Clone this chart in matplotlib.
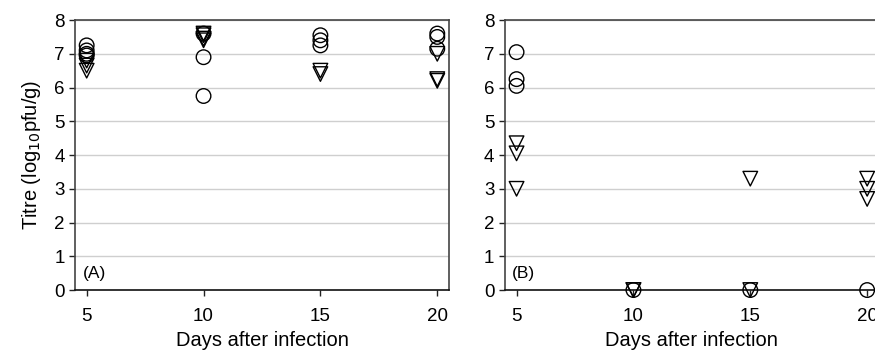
import matplotlib
matplotlib.use("Agg")
import matplotlib.pyplot as plt

plt.rcParams["font.family"] = ["Liberation Sans", "DejaVu Sans"]

# panel A
a_circ_x = [5, 5, 5, 5, 10, 10, 10, 15, 15, 15, 20, 20, 20]
a_circ_y = [7.25, 7.1, 7.0, 6.95, 7.6, 6.9, 5.75, 7.55, 7.4, 7.25, 7.6, 7.5, 7.15]
a_tri_x = [5, 5, 5, 10, 10, 10, 10, 15, 15, 20, 20, 20]
a_tri_y = [6.8, 6.65, 6.5, 7.6, 7.55, 7.45, 7.4, 6.5, 6.4, 7.0, 6.25, 6.2]

# panel B
b_circ_x = [5, 5, 5, 10, 15, 20]
b_circ_y = [7.05, 6.25, 6.05, 0, 0, 0]
b_tri_x = [5, 5, 5, 10, 10, 15, 15, 20, 20, 20]
b_tri_y = [4.35, 4.05, 3.0, 0, 0, 3.3, 0, 3.3, 3.0, 2.7]

xticks = [5, 10, 15, 20]
yticks = list(range(0, 9))

fig = plt.figure(figsize=(8.75, 3.52), dpi=100)
ax_a = fig.add_axes([0.0857, 0.176, 0.4274, 0.767])
ax_b = fig.add_axes([0.577, 0.176, 0.4274, 0.767])


def style(ax, label):
    ax.set_xlim(4.5, 20.5)
    ax.set_ylim(0, 8)
    ax.set_xticks(xticks)
    ax.set_yticks(yticks)
    ax.tick_params(labelsize=13.5, direction="out", length=4, width=1, color="#222222")
    ax.tick_params(axis="x", pad=9)
    ax.yaxis.grid(True, color="#cfcfcf", linewidth=1)
    ax.set_axisbelow(True)
    for s in ax.spines.values():
        s.set_color("#444444")
        s.set_linewidth(1.2)
    ax.spines["bottom"].set_color("#111111")
    ax.set_xlabel("Days after infection", fontsize=14.5, labelpad=4)
    ax.text(0.02, 0.035, label, transform=ax.transAxes, fontsize=12.5, ha="left", va="bottom")


mk = dict(s=110, facecolors="none", edgecolors="black", linewidths=1.0, zorder=3)
ax_a.scatter(a_circ_x, a_circ_y, marker="o", **mk)
ax_a.scatter(a_tri_x, a_tri_y, marker="v", **mk)
ax_b.scatter(b_circ_x, b_circ_y, marker="o", clip_on=False, **mk)
ax_b.scatter(b_tri_x, b_tri_y, marker="v", clip_on=False, **mk)

style(ax_a, "(A)")
style(ax_b, "(B)")
ax_a.set_ylabel("Titre (log$_{10}$pfu/g)", fontsize=14.5, labelpad=8)

fig.savefig("out.png", dpi=100)
